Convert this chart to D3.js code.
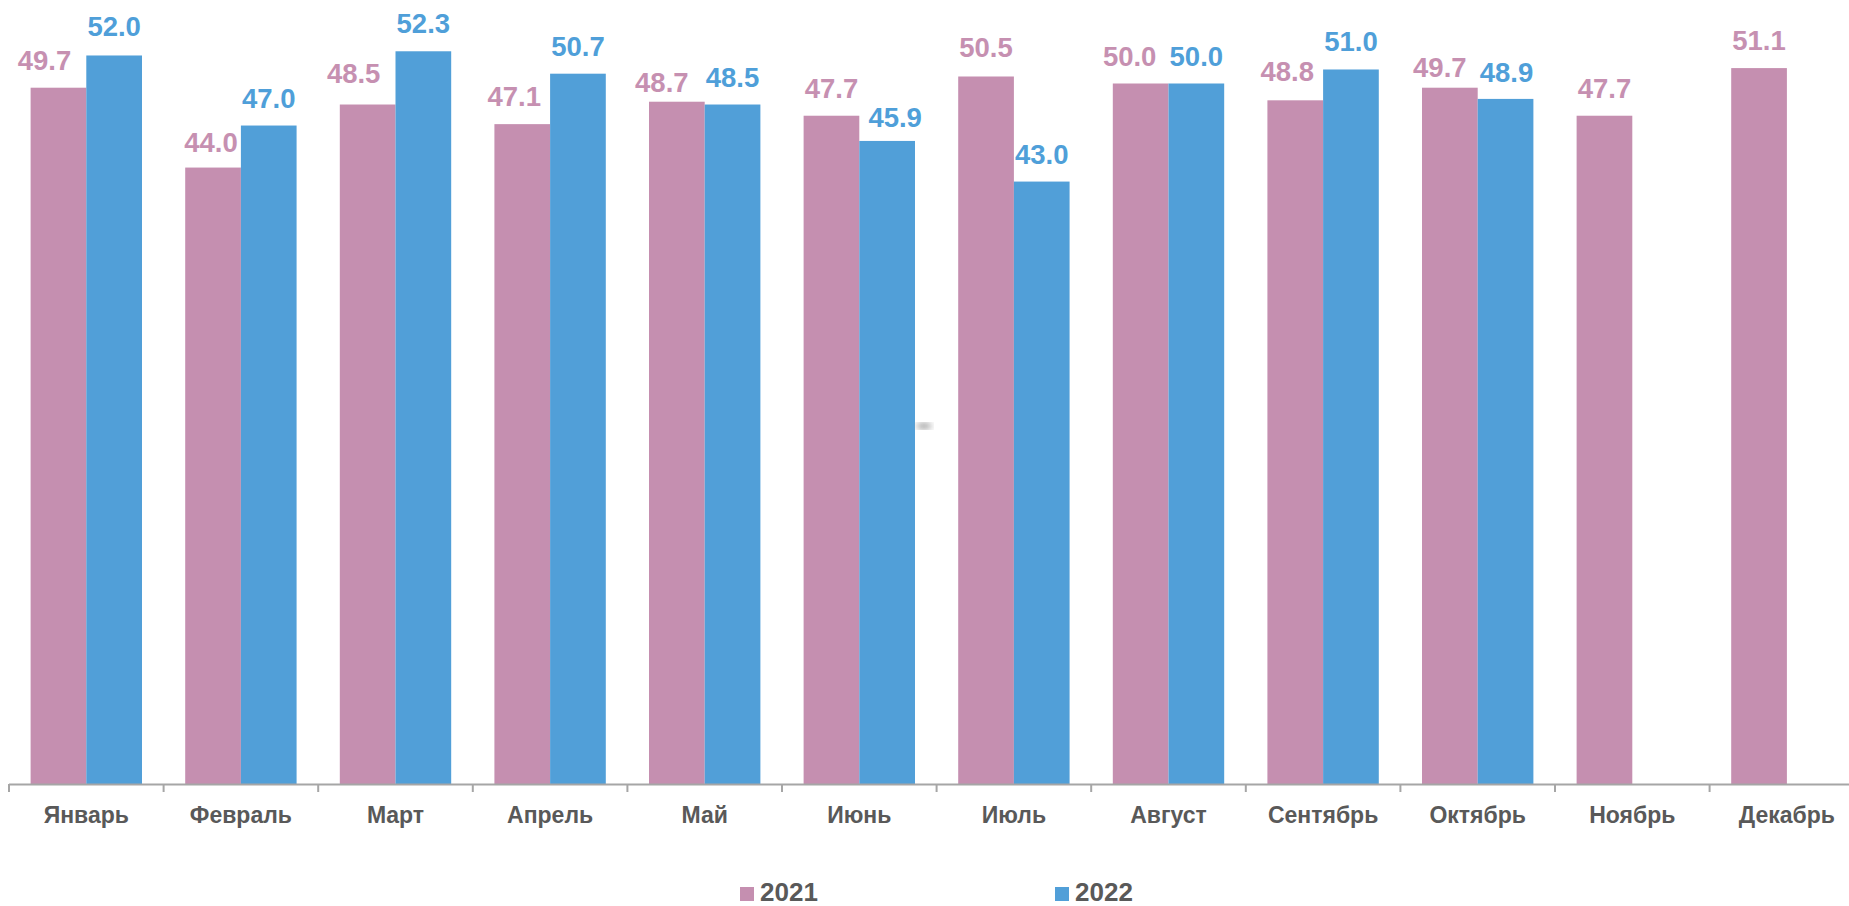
<!DOCTYPE html>
<html>
<head>
<meta charset="utf-8">
<title>2021 / 2022</title>
<script src="https://d3js.org/d3.v7.min.js"></script>
<style>
  body { margin: 0; background: #fff; }
  text { font-family: "Liberation Sans", Arial, sans-serif; font-weight: bold; }
</style>
</head>
<body>
<div id="chart"></div>
<script>
// data
var months = ["Январь", "Февраль", "Март", "Апрель", "Май", "Июнь", "Июль", "Август", "Сентябрь", "Октябрь", "Ноябрь", "Декабрь"];
var series = ["2021", "2022"];
var values2021 = [49.7, 44.0, 48.5, 47.1, 48.7, 47.7, 50.5, 50.0, 48.8, 49.7, 47.7, 51.1];
var values2022 = [52.0, 47.0, 52.3, 50.7, 48.5, 45.9, 43.0, 50.0, 51.0, 48.9, null, null];

// Excel moved some data labels by hand; these are the nudges, in px
var nudgeX2021 = [-14, -2, -14, -8, -15, 0, 0, -11, -8, -10, 0, 0];
var nudgeY2021 = [0, 2, -4, 0, 8, 0, -1, 0, -1, 7, 0, 0];
var nudgeX2022 = [0, 0, 0, 0, 0, 8, 0, 0, 0, 1, 0, 0];
var nudgeY2022 = [-1, 0, 0, 0, 0, 4, 0, 0, 0, 1, 0, 0];

var colors = {"2021": "#c58fb0", "2022": "#519fd8"};
var labelColors = {"2021": "#c690b1", "2022": "#4f9fd9"};

var width = 1849, height = 906;
var axisY = 784;
var step = 154.6;

var svg = d3.select("#chart").append("svg")
    .attr("width", width)
    .attr("height", height);

// x scales: month bands, then the two years inside each band
var x0 = d3.scaleBand()
    .domain(months)
    .range([9, 9 + step * months.length])
    .padding(0);
var x1 = d3.scaleBand()
    .domain(series)
    .range([0, x0.bandwidth()])
    .paddingInner(0)
    .paddingOuter(0.388);
var y = d3.scaleLinear()
    .domain([0, 56])
    .range([axisY, axisY - 56 * 14.01]);

var rows = [];
months.forEach(function(m, i) {
    rows.push({month: m, year: "2021", v: values2021[i], dx: nudgeX2021[i], dy: nudgeY2021[i]});
    if (values2022[i] != null)
        rows.push({month: m, year: "2022", v: values2022[i], dx: nudgeX2022[i], dy: nudgeY2022[i]});
});

svg.append("g").selectAll("rect")
    .data(rows)
    .enter()
    .append("rect")
        .attr("x", function(d) { return x0(d.month) + x1(d.year); })
        .attr("y", function(d) { return y(d.v); })
        .attr("width", x1.bandwidth())
        .attr("height", function(d) { return y(0) - y(d.v); })
        .style("fill", function(d) { return colors[d.year]; });

// value labels
svg.append("g").selectAll("text")
    .data(rows)
    .enter()
    .append("text")
        .attr("x", function(d) { return x0(d.month) + x1(d.year) + x1.bandwidth() / 2 + d.dx; })
        .attr("y", function(d) { return y(d.v) - 18 + d.dy; })
        .attr("text-anchor", "middle")
        .style("font-size", "27.5px")
        .style("fill", function(d) { return labelColors[d.year]; })
        .text(function(d) { return d.v.toFixed(1); });

// axis: baseline, ticks at band edges, month names
var axis = svg.append("g");
axis.append("line")
    .attr("x1", x0.range()[0]).attr("x2", x0.range()[1])
    .attr("y1", axisY + 0.5).attr("y2", axisY + 0.5)
    .style("stroke", "#a6a6a6").style("stroke-width", 2);
axis.selectAll(".tick")
    .data(months.concat([null]))
    .enter()
    .append("line")
        .attr("x1", function(d, i) { return x0.range()[0] + i * x0.step(); })
        .attr("x2", function(d, i) { return x0.range()[0] + i * x0.step(); })
        .attr("y1", axisY).attr("y2", axisY + 8)
        .style("stroke", "#a6a6a6").style("stroke-width", 2);
axis.selectAll(".lbl")
    .data(months)
    .enter()
    .append("text")
        .attr("x", function(d) { return x0(d) + x0.bandwidth() / 2; })
        .attr("y", 823)
        .attr("text-anchor", "middle")
        .style("font-size", "23px")
        .style("fill", "#595959")
        .text(function(d) { return d; });

// legend
var legendX = {"2021": 740, "2022": 1055};
var lg = svg.append("g");
series.forEach(function(s) {
    lg.append("rect")
        .attr("x", legendX[s]).attr("y", 887)
        .attr("width", 14).attr("height", 14)
        .style("fill", colors[s]);
    lg.append("text")
        .attr("x", legendX[s] + 20).attr("y", 901)
        .style("font-size", "26px")
        .style("fill", "#595959")
        .text(s);
});

// small grey smudge visible in the source image
var defs = svg.append("defs");
defs.append("filter").attr("id", "blur")
    .append("feGaussianBlur").attr("stdDeviation", 3);
svg.append("ellipse")
    .attr("cx", 924).attr("cy", 426)
    .attr("rx", 8).attr("ry", 3)
    .style("fill", "#9a9a9a")
    .attr("filter", "url(#blur)");
</script>
</body>
</html>
